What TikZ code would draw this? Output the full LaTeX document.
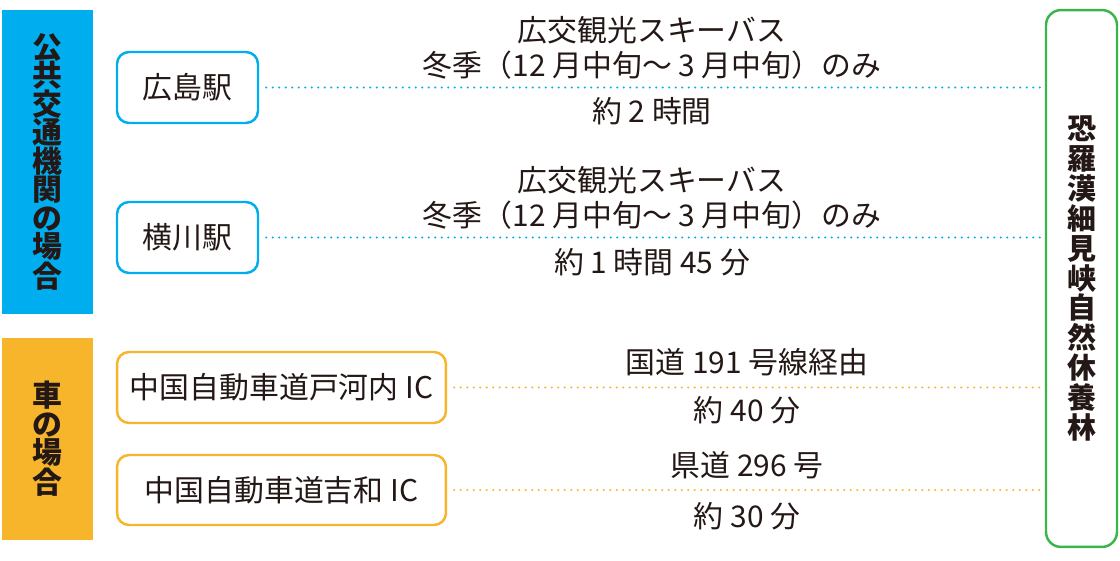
\documentclass[tikz,border=0pt]{standalone}
\usepackage{fontspec}
\setmainfont{Noto Sans CJK JP}
\usepackage{xcolor}
\usepackage{tikz}
\usetikzlibrary{positioning}

\definecolor{sumi}{HTML}{231815}
\definecolor{kouCyan}{HTML}{00AEEF}
\definecolor{kouOrange}{HTML}{F7B52C}
\definecolor{kouGreen}{HTML}{3AB54A}

\tikzset{
  bar/.style={rectangle, minimum width=1.82cm, text=sumi, font=\fontsize{17}{16.2}\selectfont\bfseries, align=center, inner sep=0pt},
  eki/.style={draw, rounded corners=0.24cm, line width=1.4pt, fill=white, minimum height=1.42cm, text=sumi, font=\fontsize{17}{19}\selectfont, inner sep=0pt},
  dest/.style={draw=kouGreen, rounded corners=0.3cm, line width=1.4pt, minimum width=1.42cm, minimum height=10.74cm, text=sumi, font=\fontsize{16.5}{17}\selectfont\bfseries, align=center, inner sep=0pt},
  route/.style={line width=1.3pt, line cap=round, dash pattern=on 0pt off 3.7pt, shorten <=4pt},
  info/.style={text=sumi, font=\fontsize{17}{19.8}\selectfont, align=center, inner sep=0pt},
}

\begin{document}
\begin{tikzpicture}[x=0.02cm, y=-0.02cm]
        \useasboundingbox (0,0) rectangle (1120,561);

        % Kategorien links
        \node[bar, fill=kouCyan, minimum height=6.08cm] (kokyo) at (47.5,162) {公\\共\\交\\通\\機\\関\\の\\場\\合};
        \node[bar, fill=kouOrange, minimum height=4.04cm] (kuruma) at (47.5,439) {車\\の\\場\\合};

        % Ziel
        \node[dest] (rinya) at (1081.5,278.5) {恐\\羅\\漢\\細\\見\\峡\\自\\然\\休\\養\\林};

        % Abfahrt
        \node[eki, draw=kouCyan, minimum width=2.82cm] (hiroshima) at (187.5,87.5) {広島駅};
        \node[eki, draw=kouCyan, minimum width=2.82cm] (yokogawa) at (187.5,237.5) {横川駅};
        \node[eki, draw=kouOrange, minimum width=6.58cm] (togouchi) at (281.5,387.5) {中国自動車道戸河内 IC};
        \node[eki, draw=kouOrange, minimum width=6.58cm, minimum height=1.4cm] (yoshiwa) at (281.5,490) {中国自動車道吉和 IC};

        % Verbindungen
        \draw[route, draw=kouCyan] (hiroshima.east) -- (hiroshima.east -| rinya.west);
        \draw[route, draw=kouCyan] (yokogawa.east) -- (yokogawa.east -| rinya.west);
        \draw[route, draw=kouOrange] (togouchi.east) -- (togouchi.east -| rinya.west);
        \draw[route, draw=kouOrange] (yoshiwa.east) -- (yoshiwa.east -| rinya.west);

        % Beschriftung
        \node[info] (bus1) at (652,48) {広交観光スキーバス\\冬季（12 月中旬～ 3 月中旬）のみ};
        \node[info] (zeit1) at (652,111) {約 2 時間};
        \node[info] (bus2) at (652,198) {広交観光スキーバス\\冬季（12 月中旬～ 3 月中旬）のみ};
        \node[info] (zeit2) at (652,262) {約 1 時間 45 分};
        \node[info] (weg3) at (747,362) {国道 191 号線経由};
        \node[info] (zeit3) at (747,410) {約 40 分};
        \node[info] (weg4) at (747,465) {県道 296 号};
        \node[info] (zeit4) at (747,516) {約 30 分};
    \end{tikzpicture}
\end{document}
